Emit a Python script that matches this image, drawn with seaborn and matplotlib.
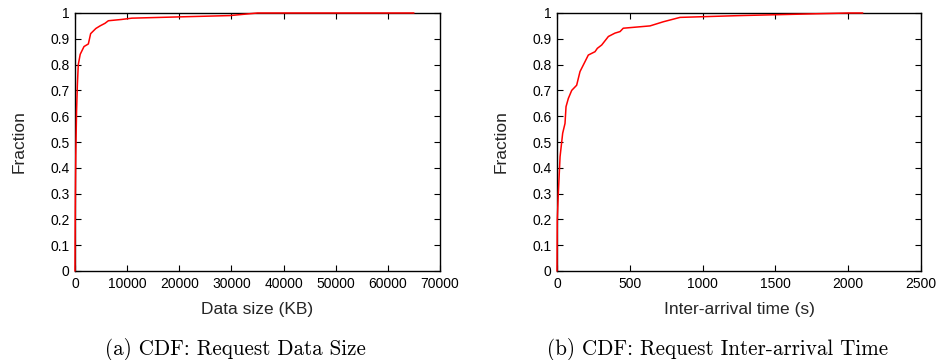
import numpy as np
import pandas as pd
import matplotlib
matplotlib.use("Agg")
import matplotlib.pyplot as plt
import seaborn as sns

size_kb = [0, 30, 60, 100, 150, 200, 300, 450, 630, 1000, 1730, 2560, 3000, 4000, 4800,
           5750, 6400, 8950, 10900, 20100, 29700, 35000, 65000]
size_frac = [0.0, 0.15, 0.25, 0.35, 0.45, 0.51, 0.62, 0.72, 0.80, 0.84, 0.87, 0.88, 0.92, 0.94, 0.95,
             0.96, 0.97, 0.975, 0.98, 0.985, 0.99, 1.0, 1.0]

iat_s = [0, 2, 9, 21, 39, 55, 62, 78, 101, 135, 158, 192, 215, 261, 277, 307, 353, 398,
         433, 455, 639, 730, 845, 1257, 2000, 2100]
iat_frac = [0.0, 0.198, 0.30, 0.443, 0.534, 0.572, 0.637, 0.669, 0.70, 0.72, 0.773, 0.811, 0.837,
            0.85, 0.863, 0.876, 0.909, 0.922, 0.928, 0.941, 0.95, 0.966, 0.983, 0.99, 1.0, 1.0]

y_ticks = [0, 0.1, 0.2, 0.3, 0.4, 0.5, 0.6, 0.7, 0.8, 0.9, 1]
y_tick_labels = ["0", "0.1", "0.2", "0.3", "0.4", "0.5", "0.6", "0.7", "0.8", "0.9", "1"]
x1_ticks = [0, 10000, 20000, 30000, 40000, 50000, 60000, 70000]
x2_ticks = [0, 500, 1000, 1500, 2000, 2500]

sns.set_style("ticks")
plt.rcParams['font.family'] = ['Liberation Sans', 'DejaVu Sans']

fig = plt.figure(figsize=(9.39, 3.6), dpi=100)
ax1 = fig.add_axes([75/939, 1-271/360, 365/939, 258/360])
ax2 = fig.add_axes([557/939, 1-271/360, 364/939, 258/360])

df1 = pd.DataFrame({"x": size_kb, "y": size_frac})
df2 = pd.DataFrame({"x": iat_s, "y": iat_frac})

panels = [
    (ax1, df1, x1_ticks, (0, 70000), "Data size (KB)", "(a) CDF: Request Data Size"),
    (ax2, df2, x2_ticks, (0, 2500), "Inter-arrival time (s)", "(b) CDF: Request Inter-arrival Time"),
]

for ax, df, xt, xlim, xlabel, caption in panels:
    sns.lineplot(data=df, x="x", y="y", ax=ax, color="#ff0000", linewidth=1.1,
                 sort=False, estimator=None)
    for ln in ax.lines:
        ln.set_zorder(3)
        ln.set_clip_on(False)
    ax.set_xlim(*xlim)
    ax.set_ylim(0, 1)
    ax.set_xticks(xt)
    ax.set_xticklabels([str(v) for v in xt])
    ax.set_yticks(y_ticks)
    ax.set_yticklabels(y_tick_labels)
    ax.tick_params(direction="in", length=4, width=0.8, top=True, right=True,
                   labelsize=10, pad=4, colors="black")
    for s in ax.spines.values():
        s.set_linewidth(1.0)
        s.set_color("black")
    ax.set_xlabel(xlabel, fontsize=12.5, labelpad=8)
    ax.set_ylabel("Fraction", fontsize=12.5, labelpad=17)
    ax.text(0.44, -0.305, caption, transform=ax.transAxes, ha="center", va="center",
            fontsize=15.2, family="cmr10", color="black")

fig.savefig("out.png", dpi=100)
